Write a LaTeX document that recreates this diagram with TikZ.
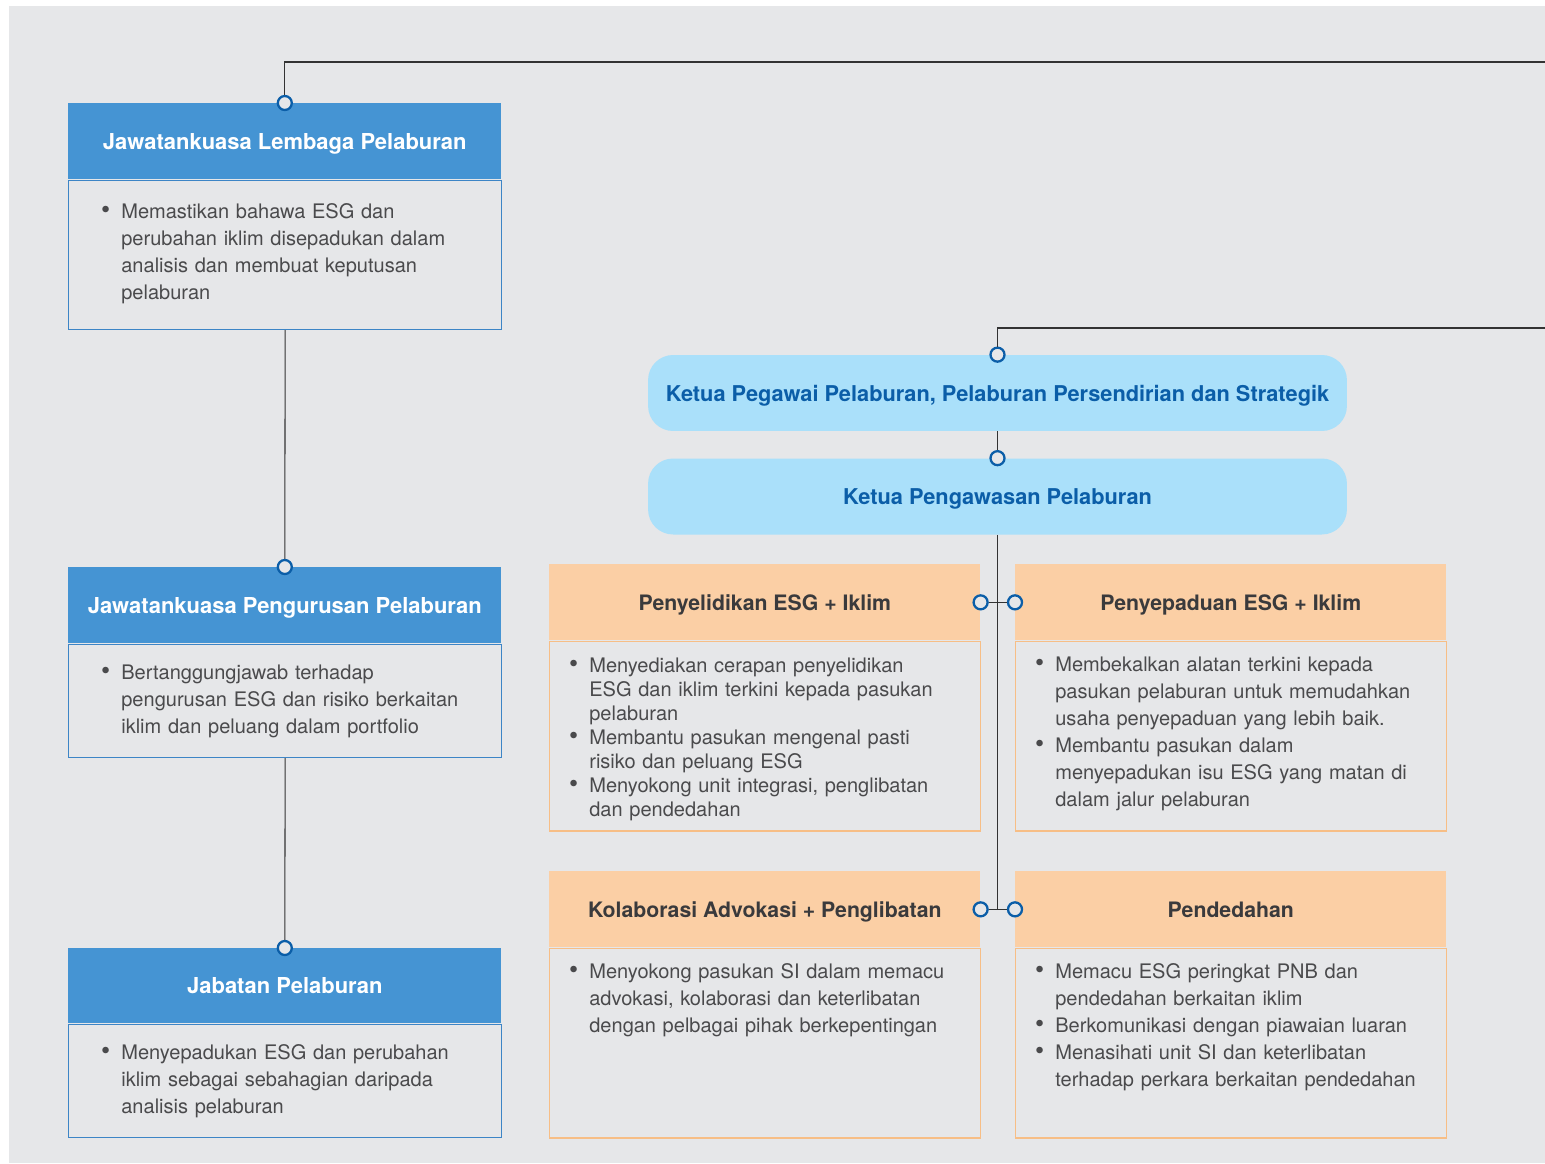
\documentclass[tikz,border=0pt]{standalone}
\usepackage{fontspec}
\setmainfont{TeX Gyre Heros}
\usepackage{enumitem}
\usepackage{tikz}
\usetikzlibrary{positioning}
\usepackage{xcolor}

\definecolor{bgc}{HTML}{E6E7E9}
\definecolor{hblue}{HTML}{4594D3}
\definecolor{bblue}{HTML}{3D85C6}
\definecolor{pblue}{HTML}{AAE0FA}
\definecolor{dblue}{HTML}{0B5EA8}
\definecolor{horange}{HTML}{FBCFA5}
\definecolor{borange}{HTML}{F7BE86}
\definecolor{txt}{HTML}{4A4A4C}
\definecolor{htxt}{HTML}{3A3A3C}
\definecolor{wirec}{HTML}{333333}

\setlist[itemize]{label=\scalebox{1.3}{\textbullet}, leftmargin=0.36cm, labelsep=0.22cm,
  itemsep=0pt, topsep=0pt, parsep=0pt, partopsep=0pt}

\begin{document}
\begin{tikzpicture}[x=0.02cm, y=-0.02cm,
  bluehead/.style={rectangle, anchor=north west, fill=hblue, minimum width=8.66cm,
               minimum height=1.52cm, inner sep=0pt, text depth=0pt, text=white,
               font=\bfseries\fontsize{12.5}{14}\selectfont},
  bluebody/.style={rectangle, anchor=north west, fill=bgc, draw=bblue,
               line width=0.8pt, minimum width=8.66cm, inner sep=0pt},
  orahead/.style={rectangle, anchor=north west, fill=horange, minimum width=8.62cm,
               minimum height=1.52cm, inner sep=0pt, text depth=0pt, text=htxt,
               font=\bfseries\fontsize{12.1}{14}\selectfont},
  orabody/.style={rectangle, anchor=north west, fill=bgc, draw=borange,
               line width=0.8pt, minimum width=8.62cm, minimum height=3.79cm,
               inner sep=0pt},
  pill/.style={rectangle, rounded corners=0.5cm, fill=pblue, minimum width=13.98cm,
               minimum height=1.52cm, inner sep=0pt, text depth=0pt, text=dblue,
               font=\bfseries\fontsize{12.4}{14}\selectfont},
  itemtext/.style={anchor=north west, inner sep=0pt, text width=#1, align=left,
               text=txt, font=\fontsize{11.4}{15.3}\selectfont},
  itemtext/.default=8cm,
  port/.style={circle, draw=dblue, fill=bgc, line width=1.3pt,
               minimum size=0.28cm, inner sep=0pt},
  wire/.style={draw=wirec, line width=0.6pt}
]
  \useasboundingbox (0,0) rectangle (1545,1163);
  \fill[bgc] (9,6) rectangle (1545,1163);

  % left column
  \node[bluehead] (jlp) at (68,103) {Jawatankuasa Lembaga Pelaburan};
  \node[bluebody, minimum height=2.98cm] (jlp_m) at (jlp.south west) {};
  \node[itemtext] (jlp_t) at ([xshift=0.7cm, yshift=-0.24cm]jlp_m.north west)
    {\begin{itemize}
     \item Memastikan bahawa ESG dan\\ perubahan iklim disepadukan dalam\\
       analisis dan membuat keputusan\\ pelaburan
     \end{itemize}};

  \node[bluehead] (jpp) at (68,567) {Jawatankuasa Pengurusan Pelaburan};
  \node[bluebody, minimum height=2.26cm] (jpp_m) at (jpp.south west) {};
  \node[itemtext] (jpp_t) at ([xshift=0.7cm, yshift=-0.18cm]jpp_m.north west)
    {\begin{itemize}
     \item Bertanggungjawab terhadap\\ pengurusan ESG dan risiko berkaitan\\
       iklim dan peluang dalam portfolio
     \end{itemize}};

  \node[bluehead, minimum height=1.5cm] (jp) at (68,948) {Jabatan Pelaburan};
  \node[bluebody, minimum height=2.26cm] (jp_m) at (jp.south west) {};
  \node[itemtext] (jp_t) at ([xshift=0.7cm, yshift=-0.18cm]jp_m.north west)
    {\begin{itemize}
     \item Menyepadukan ESG dan perubahan\\ iklim sebagai sebahagian daripada\\
       analisis pelaburan
     \end{itemize}};

  % chiefs
  \node[pill] (kpp) at (997.5,393)
    {Ketua Pegawai Pelaburan, Pelaburan Persendirian dan Strategik};
  \node[pill] (kpw) at (997.5,496.5) {Ketua Pengawasan Pelaburan};

  % units
  \node[orahead] (pen) at (549,564) {Penyelidikan ESG + Iklim};
  \node[orabody] (pen_m) at (pen.south west) {};
  \node[itemtext=8.3cm, font=\fontsize{11.4}{13.6}\selectfont] (pen_t)
    at ([xshift=0.44cm, yshift=-0.16cm]pen_m.north west)
    {\begin{itemize}
     \item Menyediakan cerapan penyelidikan\\ ESG dan iklim terkini kepada pasukan\\ pelaburan
     \item Membantu pasukan mengenal pasti\\ risiko dan peluang ESG
     \item Menyokong unit integrasi, penglibatan\\ dan pendedahan
     \end{itemize}};

  \node[orahead] (pad) at (1015,564) {Penyepaduan ESG + Iklim};
  \node[orabody] (pad_m) at (pad.south west) {};
  \node[itemtext=8.3cm] (pad_t) at ([xshift=0.44cm, yshift=-0.08cm]pad_m.north west)
    {\begin{itemize}
     \item Membekalkan alatan terkini kepada\\ pasukan pelaburan untuk memudahkan\\
       usaha penyepaduan yang lebih baik.
     \item Membantu pasukan dalam\\ menyepadukan isu ESG yang matan di\\
       dalam jalur pelaburan
     \end{itemize}};

  \node[orahead] (kol) at (549,871) {Kolaborasi Advokasi + Penglibatan};
  \node[orabody] (kol_m) at (kol.south west) {};
  \node[itemtext=8.3cm] (kol_t) at ([xshift=0.44cm, yshift=-0.08cm]kol_m.north west)
    {\begin{itemize}
     \item Menyokong pasukan SI dalam memacu\\ advokasi, kolaborasi dan keterlibatan\\
       dengan pelbagai pihak berkepentingan
     \end{itemize}};

  \node[orahead] (ped) at (1015,871) {Pendedahan};
  \node[orabody] (ped_m) at (ped.south west) {};
  \node[itemtext=8.3cm] (ped_t) at ([xshift=0.44cm, yshift=-0.08cm]ped_m.north west)
    {\begin{itemize}
     \item Memacu ESG peringkat PNB dan\\ pendedahan berkaitan iklim
     \item Berkomunikasi dengan piawaian luaran
     \item Menasihati unit SI dan keterlibatan\\ terhadap perkara berkaitan pendedahan
     \end{itemize}};

  % ports
  \node[port] (jlp_p) at (jlp.north) {};
  \node[port] (jpp_p) at (jpp.north) {};
  \node[port] (jp_p)  at (jp.north)  {};
  \node[port] (kpp_p) at (kpp.north) {};
  \node[port] (kpw_p) at (kpw.north) {};
  \node[port] (pen_p) at (pen.east)  {};
  \node[port] (pad_p) at (pad.west)  {};
  \node[port] (kol_p) at (kol.east)  {};
  \node[port] (ped_p) at (ped.west)  {};

  \coordinate (top_r) at (1545,62);
  \coordinate (mid_r) at (1545,328);
  \coordinate (spine) at (kpw.south |- kol_p);

  % connectors
  \draw[wire] (jlp_p.north) |- (top_r);
  \draw[wire] (jlp_m.south) -- (jpp_p.north);
  \draw[wire] (jpp_m.south) -- (jp_p.north);
  \draw[wire] (kpp_p.north) |- (mid_r);
  \draw[wire] (kpp.south) -- (kpw_p.north);
  \draw[wire] (kpw.south) -- (spine);
  \draw[wire] (pen_p.east) -- (pad_p.west);
  \draw[wire] (kol_p.east) -- (ped_p.west);
\end{tikzpicture}
\end{document}
